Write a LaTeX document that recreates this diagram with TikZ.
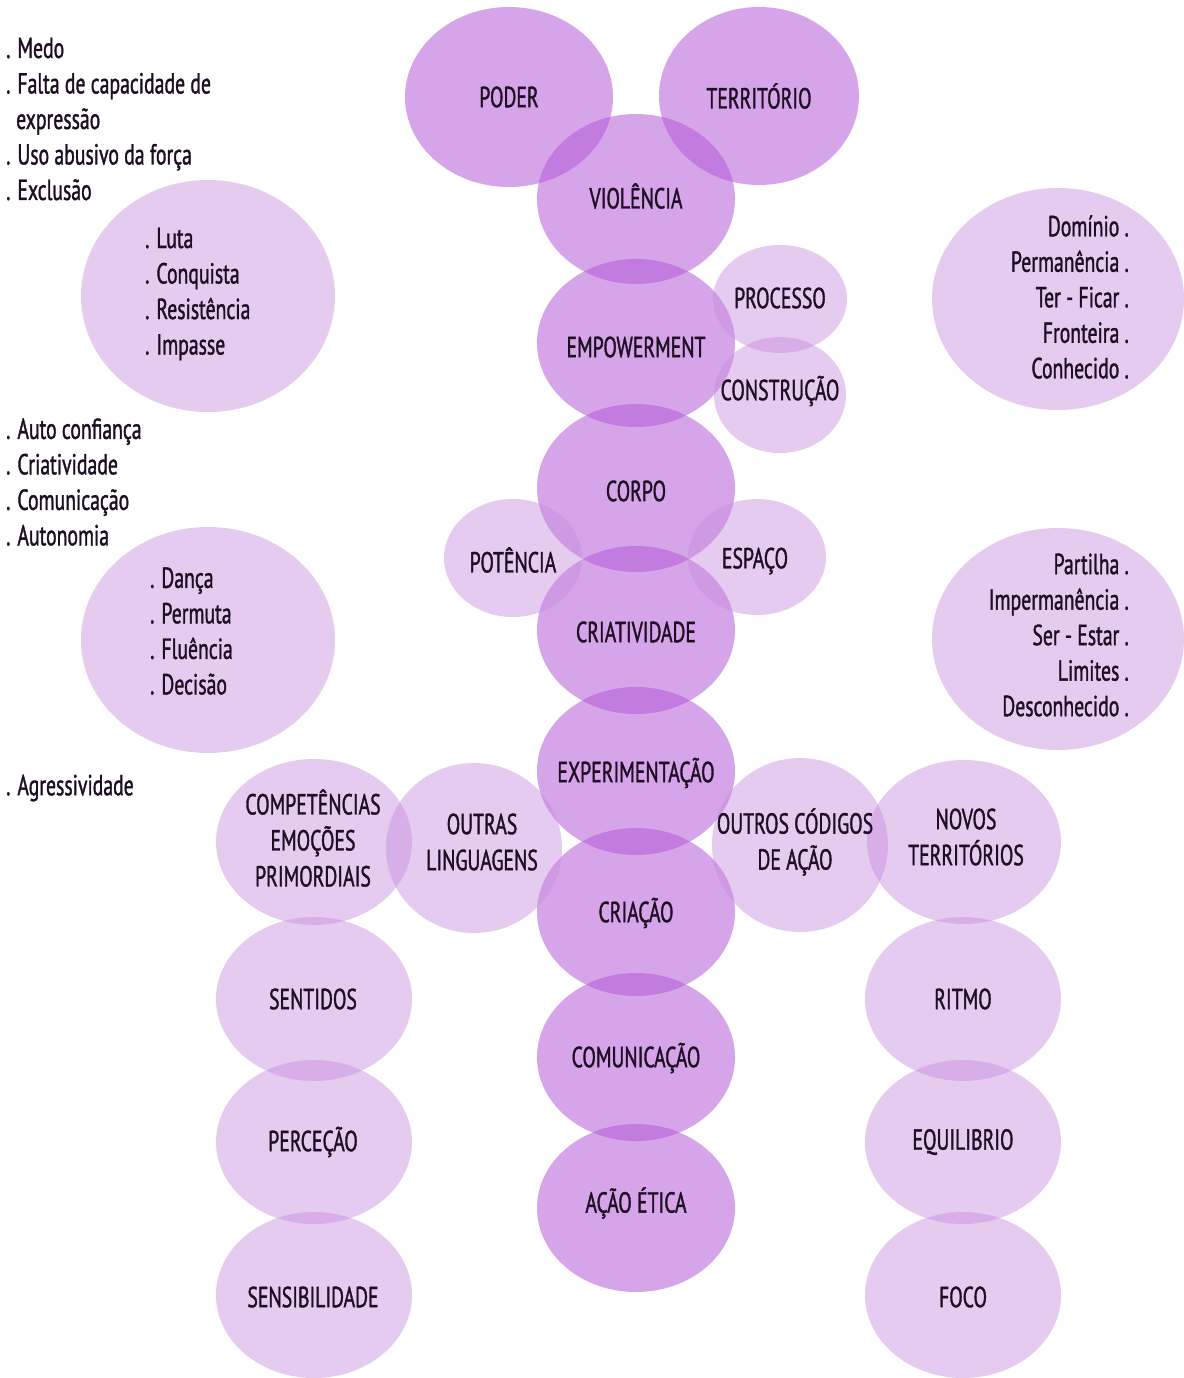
\documentclass[tikz,border=0pt]{standalone}
\usepackage{fontspec}
\setmainfont[FakeStretch=0.68, UprightFeatures={FakeBold=1.2}]{PT Sans}
\usetikzlibrary{shapes.geometric}
\definecolor{violeta}{HTML}{B45AD8}
\definecolor{lilas}{HTML}{C88CE0}
\definecolor{tinta}{HTML}{1E0E24}
\tikzset{bolha/.style 2 args={ellipse, minimum width=#1, minimum height=#2, inner sep=0pt, draw=none}}
\tikzset{forte/.style={fill=violeta, fill opacity=0.55}}
\tikzset{fraca/.style={fill=lilas, fill opacity=0.45}}
\tikzset{rotulo/.style={text=tinta, font=\fontsize{29}{36}\selectfont, align=center, inner sep=0pt}}
\tikzset{lista/.style={text=tinta, font=\fontsize{29}{35.5}\selectfont, inner sep=0pt}}

\begin{document}
\begin{tikzpicture}[x=1pt, y=-1pt]
    \fill[white] (0,0) rectangle (1183,1378);
    \useasboundingbox (0,0) rectangle (1183,1378);

    % eixo central
    \node[bolha={208pt}{180pt}, forte] (poder) at (509,97) {};
    \node[bolha={200pt}{178pt}, forte] (territorio) at (759,96) {};
    \node[bolha={198pt}{170pt}, forte] (violencia) at (636,199) {};
    \node[bolha={198pt}{168pt}, forte] (empower) at (636,343) {};
    \node[bolha={198pt}{168pt}, forte] (corpo) at (636,488) {};
    \node[bolha={198pt}{168pt}, forte] (criativ) at (636,630) {};
    \node[bolha={198pt}{168pt}, forte] (experim) at (636,771) {};
    \node[bolha={198pt}{168pt}, forte] (criacao) at (636,912) {};
    \node[bolha={198pt}{168pt}, forte] (comunic) at (636,1057) {};
    \node[bolha={198pt}{168pt}, forte] (acao) at (636,1208) {};

    % bolhas laterais
    \node[bolha={134pt}{108pt}, fraca] (processo) at (780,299) {};
    \node[bolha={132pt}{116pt}, fraca] (construcao) at (780,395) {};
    \node[bolha={138pt}{118pt}, fraca] (potencia) at (513,558) {};
    \node[bolha={138pt}{116pt}, fraca] (espaco) at (757,557) {};
    \node[bolha={176pt}{170pt}, fraca] (outras) at (474,848) {};
    \node[bolha={176pt}{174pt}, fraca] (codigos) at (800,845) {};
    \node[bolha={196pt}{166pt}, fraca] (compet) at (314,842) {};
    \node[bolha={196pt}{164pt}, fraca] (sentidos) at (314,999) {};
    \node[bolha={196pt}{164pt}, fraca] (percecao) at (314,1142) {};
    \node[bolha={196pt}{166pt}, fraca] (sensib) at (314,1295) {};
    \node[bolha={194pt}{164pt}, fraca] (novos) at (964,842) {};
    \node[bolha={196pt}{164pt}, fraca] (ritmo) at (963,999) {};
    \node[bolha={196pt}{164pt}, fraca] (equilibrio) at (963,1142) {};
    \node[bolha={196pt}{166pt}, fraca] (foco) at (963,1295) {};

    % bolhas das listas
    \node[bolha={254pt}{232pt}, fraca] (luta) at (208,296) {};
    \node[bolha={254pt}{226pt}, fraca] (danca) at (208,640) {};
    \node[bolha={252pt}{222pt}, fraca] (dominio) at (1058,299) {};
    \node[bolha={252pt}{222pt}, fraca] (partilha) at (1058,639) {};

    % textos
    \node[rotulo] (tpoder) at (poder) {PODER};
    \node[rotulo] (tterritorio) at (territorio) {TERRITÓRIO};
    \node[rotulo] (tviolencia) at (636,196) {VIOLÊNCIA};
    \node[rotulo] (tempower) at (636,347) {EMPOWERMENT};
    \node[rotulo] (tcorpo) at (636,491) {CORPO};
    \node[rotulo] (tcriativ) at (636,632) {CRIATIVIDADE};
    \node[rotulo] (texperim) at (636,773) {EXPERIMENTAÇÃO};
    \node[rotulo] (tcriacao) at (636,913) {CRIAÇÃO};
    \node[rotulo] (tcomunic) at (636,1058) {COMUNICAÇÃO};
    \node[rotulo] (tacao) at (636,1203) {AÇÃO ÉTICA};
    \node[rotulo] (tprocesso) at (780,298) {PROCESSO};
    \node[rotulo] (tconstrucao) at (780,391) {CONSTRUÇÃO};
    \node[rotulo] (tpotencia) at (513,560) {POTÊNCIA};
    \node[rotulo] (tespaco) at (755,561) {ESPAÇO};
    \node[rotulo] (toutras) at (482,842) {OUTRAS\\LINGUAGENS};
    \node[rotulo] (tcodigos) at (795,842) {OUTROS CÓDIGOS\\DE AÇÃO};
    \node[rotulo] (tcompet) at (313,838) {COMPETÊNCIAS\\EMOÇÕES\\PRIMORDIAIS};
    \node[rotulo] (tsentidos) at (313,999) {SENTIDOS};
    \node[rotulo] (tpercecao) at (313,1142) {PERCEÇÃO};
    \node[rotulo] (tsensib) at (313,1297) {SENSIBILIDADE};
    \node[rotulo] (tnovos) at (966,837) {NOVOS\\TERRITÓRIOS};
    \node[rotulo] (tritmo) at (963,999) {RITMO};
    \node[rotulo] (tequilibrio) at (963,1142) {EQUILIBRIO};
    \node[rotulo] (tfoco) at (963,1297) {FOCO};

    % listas
    \node[lista, anchor=west, align=left] (medos) at (6,119) {. Medo\\. Falta de capacidade de\\\hspace*{10pt}expressão\\. Uso abusivo da força\\. Exclusão};
    \node[lista, anchor=west, align=left] (tluta) at (145,294) {. Luta\\. Conquista\\. Resistência\\. Impasse};
    \node[lista, anchor=west, align=left] (ganhos) at (6,482) {. Auto confiança\\. Criatividade\\. Comunicação\\. Autonomia};
    \node[lista, anchor=west, align=left] (tdanca) at (150,631) {. Dança\\. Permuta\\. Fluência\\. Decisão};
    \node[lista, anchor=west] (agress) at (6,788) {. Agressividade};
    \node[lista, anchor=east, align=right] (tdominio) at (1129,297) {Domínio .\\Permanência .\\Ter - Ficar .\\Fronteira .\\Conhecido .};
    \node[lista, anchor=east, align=right] (tpartilha) at (1129,635) {Partilha .\\Impermanência .\\Ser - Estar .\\Limites .\\Desconhecido .};
\end{tikzpicture}
\end{document}
